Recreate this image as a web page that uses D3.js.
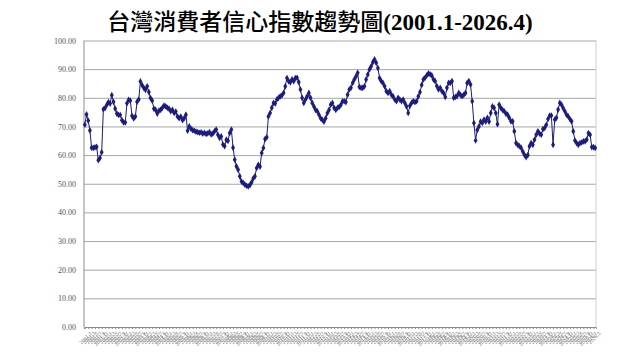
<!DOCTYPE html>
<html lang="zh-Hant">
<head>
<meta charset="UTF-8">
<title>台灣消費者信心指數趨勢圖</title>
<script src="https://cdn.jsdelivr.net/npm/d3@7"></script>
<style>
    body { margin: 0; background: #fff; }
    svg { display: block; }
</style>
</head>
<body>
<div id="chart"></div>
<script>
    // 2001.1 .. 2026.4, monthly index values
    const cci = [
        70.6, 74.2, 72.0, 68.6, 62.6, 62.5, 62.7, 62.9, 58.2, 59.0, 61.0, 76.0,
        76.4, 77.5, 78.5, 78.0, 80.9, 78.6, 76.2, 74.5, 74.0, 74.0, 72.2, 71.4,
        71.4, 78.1, 79.3, 79.0, 73.7, 72.8, 73.5, 78.6, 79.4, 85.7, 84.4, 83.5,
        82.8, 84.0, 82.0, 79.9, 79.0, 76.2, 75.8, 74.5, 75.5, 75.8, 76.5, 77.3,
        77.0, 76.5, 76.2, 75.3, 75.8, 74.7, 75.2, 73.5, 72.9, 73.4, 72.2, 72.9,
        74.1, 68.5, 70.0, 69.2, 68.7, 68.5, 68.2, 68.0, 67.8, 67.9, 67.5, 67.8,
        67.4, 67.6, 68.0, 67.2, 67.5, 68.3, 68.9, 67.1, 66.0, 66.5, 63.7, 63.1,
        65.4, 65.0, 67.7, 68.9, 62.6, 58.4, 56.1, 54.9, 52.6, 50.8, 50.3, 49.7,
        49.3, 49.1, 49.5, 50.5, 51.9, 52.6, 55.5, 56.6, 56.0, 60.7, 62.5, 65.6,
        66.2, 73.5, 74.7, 76.5, 78.2, 78.0, 79.4, 80.0, 80.5, 80.8, 81.7, 84.0,
        86.9, 85.8, 85.4, 86.4, 85.8, 86.9, 87.0, 85.5, 82.9, 80.0, 78.2, 79.4,
        80.5, 81.7, 80.0, 78.2, 77.0, 75.8, 75.3, 74.1, 72.9, 72.3, 71.7, 72.9,
        74.7, 75.8, 77.6, 78.2, 76.5, 75.8, 76.5, 76.8, 77.5, 78.8, 78.8, 78.5,
        81.1, 82.9, 83.5, 85.2, 86.4, 87.5, 88.7, 83.8, 83.5, 83.5, 84.0, 86.4,
        88.1, 89.9, 91.0, 92.4, 93.4, 92.2, 90.4, 86.9, 85.8, 85.2, 84.0, 82.3,
        81.7, 82.3, 81.1, 80.5, 79.4, 78.8, 80.0, 79.4, 78.8, 79.4, 78.2, 77.0,
        74.7, 77.2, 78.2, 78.8, 78.5, 78.8, 80.5, 82.0, 84.5, 86.4, 87.0, 87.8,
        88.5, 88.2, 87.8, 86.4, 85.8, 84.1, 82.9, 83.5, 82.3, 81.7, 80.3, 83.5,
        85.2, 85.2, 85.8, 80.0, 80.3, 80.6, 81.7, 81.0, 80.6, 81.0, 81.7, 85.2,
        85.8, 84.6, 78.8, 71.2, 65.1, 68.8, 70.0, 71.7, 71.2, 72.4, 71.7, 73.0,
        71.7, 74.7, 77.0, 76.5, 74.7, 70.8, 77.6, 76.5, 75.8, 75.3, 74.5, 74.1,
        73.0, 71.8, 71.8, 68.3, 64.2, 63.6, 63.1, 62.6, 61.3, 60.1, 59.3, 60.0,
        63.1, 64.2, 63.6, 65.4, 67.1, 68.3, 67.5, 67.1, 69.1, 69.5, 70.6, 72.6,
        73.8, 73.8, 63.6, 72.4, 73.0, 75.9, 78.2, 77.6, 76.4, 75.3, 74.1, 73.5,
        72.6, 71.8, 68.3, 65.1, 64.2, 63.6, 64.2, 64.4, 64.8, 64.8, 65.4, 67.7,
        67.1, 62.8, 62.8, 62.5
    ]
    const startYear = 2001
    const months = cci.map((_, i) => `${startYear + Math.floor(i / 12)}.${i % 12 + 1}`)
    const yTicks = [0, 10, 20, 30, 40, 50, 60, 70, 80, 90, 100]
    const titleCJK = "台灣消費者信心指數趨勢圖"
    const titleSpan = "(2001.1-2026.4)"

    const W = 640, H = 360
    const plot = {left: 84, right: 596, top: 40.5, bottom: 327}

    const svg = d3.select("#chart").append("svg")
        .attr("width", W)
        .attr("height", H)

    const x = d3.scalePoint()
        .domain(months)
        .range([plot.left, plot.right])
        .padding(0.5)
    const y = d3.scaleLinear()
        .domain([0, 100])
        .range([plot.bottom, plot.top])

    // title
    const title = svg.append("text")
        .attr("x", 320)
        .attr("y", 30)
        .attr("text-anchor", "middle")
        .attr("font-size", 23)
        .attr("fill", "#000")
    title.append("tspan")
        .attr("font-family", "'Noto Sans CJK TC', sans-serif")
        .attr("font-weight", 500)
        .text(titleCJK)
    title.append("tspan")
        .attr("font-family", "'Liberation Serif', serif")
        .attr("font-weight", "bold")
        .text(titleSpan)

    // gridlines + y labels
    const yAxis = svg.append("g")
        .attr("transform", `translate(${plot.left},0)`)
        .call(d3.axisLeft(y)
            .tickValues(yTicks)
            .tickFormat(d3.format(".2f"))
            .tickSize(-(plot.right - plot.left))
            .tickPadding(8))
    yAxis.select(".domain").remove()
    yAxis.selectAll(".tick line")
        .attr("stroke", "#a6a6a6")
        .attr("stroke-width", 1)
    yAxis.selectAll(".tick text")
        .attr("font-family", "'Liberation Serif', serif")
        .attr("font-size", 8)
        .attr("fill", "#555")

    // plot frame
    svg.append("line")
        .attr("x1", plot.right).attr("x2", plot.right)
        .attr("y1", plot.top).attr("y2", plot.bottom)
        .attr("stroke", "#d0d0d0")
    svg.append("line")
        .attr("x1", plot.left).attr("x2", plot.left)
        .attr("y1", plot.top).attr("y2", plot.bottom)
        .attr("stroke", "#8c8c8c")

    // x axis: tiny rotated month labels
    const xAxis = svg.append("g")
        .attr("transform", `translate(0,${plot.bottom})`)
        .call(d3.axisBottom(x)
            .tickValues(months.filter((_, i) => i % 2 === 0))
            .tickSize(2)
            .tickPadding(1))
    xAxis.select(".domain").attr("stroke", "#8c8c8c")
    xAxis.selectAll(".tick line").attr("stroke", "#8c8c8c")
    xAxis.selectAll(".tick text")
        .attr("font-family", "'Liberation Serif', serif")
        .attr("font-size", 5.5)
        .attr("fill", "#666")
        .attr("text-anchor", "end")
        .attr("transform", "translate(2,2) rotate(-45)")

    // series line
    svg.append("path")
        .datum(cci)
        .attr("fill", "none")
        .attr("stroke", "#1c1c7a")
        .attr("stroke-width", 1)
        .attr("d", d3.line()
            .x((d, i) => x(months[i]))
            .y(d => y(d)))

    // diamond markers
    svg.append("g")
        .selectAll("path")
        .data(cci)
        .join("path")
        .attr("transform", (d, i) => `translate(${x(months[i])},${y(d)})`)
        .attr("d", d3.symbol(d3.symbolDiamond, 13))
        .attr("fill", "#1c1c7a")
</script>
</body>
</html>
